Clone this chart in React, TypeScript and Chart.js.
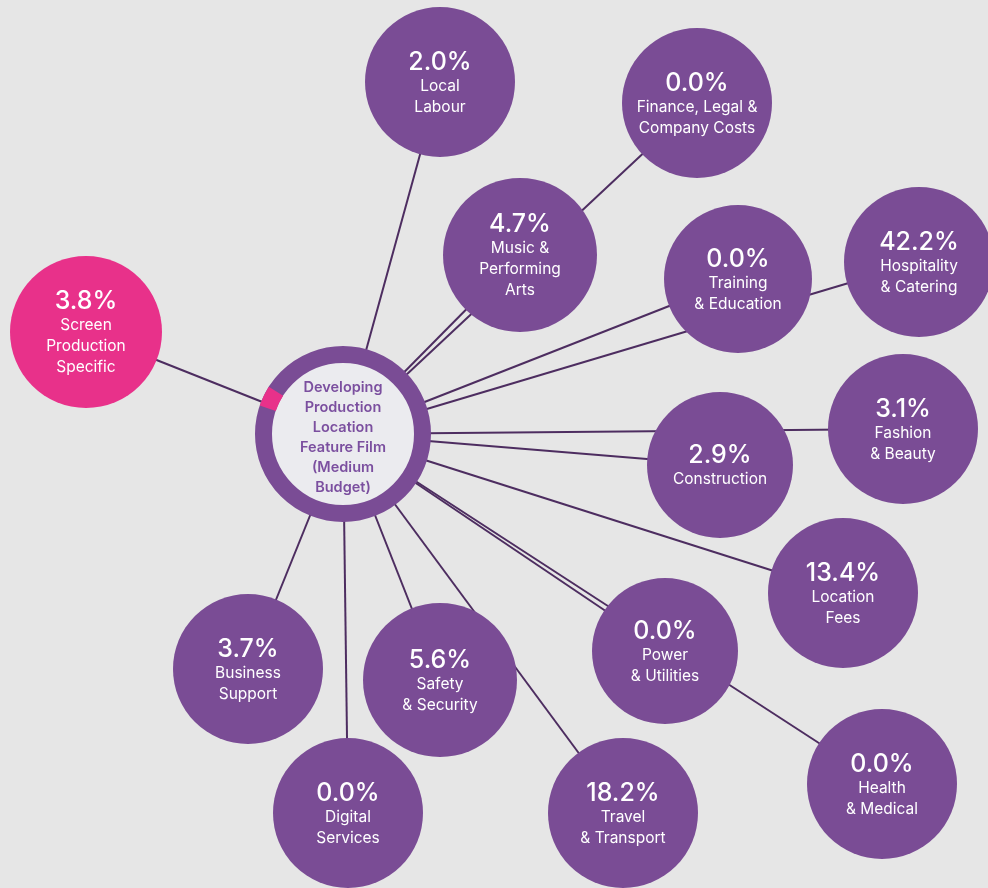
import React, { useEffect, useRef } from "react";
import { Chart, registerables } from "chart.js";

Chart.register(...registerables);

// ---- data ----
const categories: string[] = [
  "Local\nLabour",
  "Finance, Legal &\nCompany Costs",
  "Music &\nPerforming\nArts",
  "Training\n& Education",
  "Hospitality\n& Catering",
  "Screen\nProduction\nSpecific",
  "Construction",
  "Fashion\n& Beauty",
  "Location\nFees",
  "Power\n& Utilities",
  "Health\n& Medical",
  "Travel\n& Transport",
  "Safety\n& Security",
  "Digital\nServices",
  "Business\nSupport",
];
const shares: number[] = [2.0, 0.0, 4.7, 0.0, 42.2, 3.8, 2.9, 3.1, 13.4, 0.0, 0.0, 18.2, 5.6, 0.0, 3.7];
const highlighted: string = "Screen\nProduction\nSpecific";
const centreTitle: string[] = ["Developing", "Production", "Location", "Feature Film", "(Medium", "Budget)"];

// ---- layout (node placement on a 988 x 888 plane) ----
const nodeX: number[] = [440, 697, 520, 738, 919, 86, 720, 903, 843, 665, 882, 623, 440, 348, 248];
const nodeY: number[] = [82, 103, 255, 279, 262, 332, 465, 429, 593, 651, 784, 813, 680, 813, 669];
const nodeR: number[] = [75, 75, 77, 74, 75, 76, 73, 75, 75, 73, 75, 75, 77, 75, 75];
const hubX = 343;
const hubY = 434;

const PURPLE = "#7a4c95";
const PINK = "#e8318a";
const LINE = "#4d2d60";
const BG = "#e6e6e6";
const HUB_FILL = "#ebebef";
const FONT = "Inter, 'Open Sans', sans-serif";

export default function App() {
  const ref = useRef<HTMLCanvasElement | null>(null);

  useEffect(() => {
    document.body.style.margin = "0";
    document.body.style.background = BG;
    const canvas = ref.current;
    if (!canvas) return;

    const lineSets = categories.map((c, i) => ({
      type: "line" as const,
      label: "link " + c,
      data: [
        { x: hubX, y: hubY },
        { x: nodeX[i], y: nodeY[i] },
      ],
      borderColor: LINE,
      borderWidth: 2,
      pointRadius: 0,
      fill: false,
      order: 3,
      clip: false as any,
    }));

    const textPlugin = {
      id: "nodeText",
      afterDatasetsDraw(chart: any) {
        const ctx = chart.ctx as CanvasRenderingContext2D;
        const xs = chart.scales.x;
        const ys = chart.scales.y;
        // hub ring highlight segment
        const hx = xs.getPixelForValue(hubX);
        const hy = ys.getPixelForValue(hubY);
        const hi = categories.indexOf(highlighted);
        const ang = Math.atan2(nodeY[hi] - hubY, nodeX[hi] - hubX) + 0.07;
        const span = (shares[hi] / 100) * Math.PI * 2;
        ctx.save();
        ctx.beginPath();
        ctx.arc(hx, hy, 79.5, ang - span / 2, ang + span / 2);
        ctx.strokeStyle = PINK;
        ctx.lineWidth = 17;
        ctx.stroke();

        // hub title
        ctx.fillStyle = "#7b4f9f";
        ctx.textAlign = "center";
        ctx.textBaseline = "middle";
        ctx.font = `600 14.5px ${FONT}`;
        const n0 = centreTitle.length;
        centreTitle.forEach((t, k) => {
          ctx.fillText(t, hx, hy + 4 + (k - (n0 - 1) / 2) * 20);
        });

        // node labels
        ctx.fillStyle = "#ffffff";
        categories.forEach((c, i) => {
          const px = xs.getPixelForValue(nodeX[i]);
          const py = ys.getPixelForValue(nodeY[i]);
          const lines = c.split("\n");
          const n = lines.length;
          const y0 = py - (19 + 21 * (n - 1)) / 2;
          ctx.font = `500 25px ${FONT}`;
          ctx.fillText(shares[i].toFixed(1) + "%", px, y0);
          ctx.font = `400 15.5px ${FONT}`;
          lines.forEach((l, k) => {
            ctx.fillText(l, px, y0 + 24 + 21 * k);
          });
        });
        ctx.restore();
      },
    };

    const chart = new Chart(canvas, {
      type: "bubble",
      data: {
        datasets: [
          {
            type: "bubble",
            label: "hub",
            data: [{ x: hubX, y: hubY, r: 79.5 }],
            backgroundColor: HUB_FILL,
            borderColor: PURPLE,
            borderWidth: 17,
            hoverBorderWidth: 17,
            order: 2,
            clip: false as any,
          },
          {
            type: "bubble",
            label: "shares",
            data: categories.map((c, i) => ({ x: nodeX[i], y: nodeY[i], r: nodeR[i] })),
            backgroundColor: categories.map((c) => (c === highlighted ? PINK : PURPLE)),
            borderWidth: 0,
            order: 1,
            clip: false as any,
          },
          ...lineSets,
        ] as any,
      },
      options: {
        animation: false,
        responsive: false,
        maintainAspectRatio: false,
        layout: { padding: 0, autoPadding: false },
        plugins: {
          legend: { display: false },
          tooltip: { enabled: false },
        },
        events: [],
        scales: {
          x: { type: "linear", min: 0, max: 988, display: false },
          y: { type: "linear", min: 0, max: 888, reverse: true, display: false },
        },
      },
      plugins: [textPlugin],
    });
    return () => chart.destroy();
  }, []);

  return (
    <div style={{ width: 988, height: 888, background: BG }}>
      <canvas ref={ref} width={988} height={888} style={{ display: "block" }} />
    </div>
  );
}
